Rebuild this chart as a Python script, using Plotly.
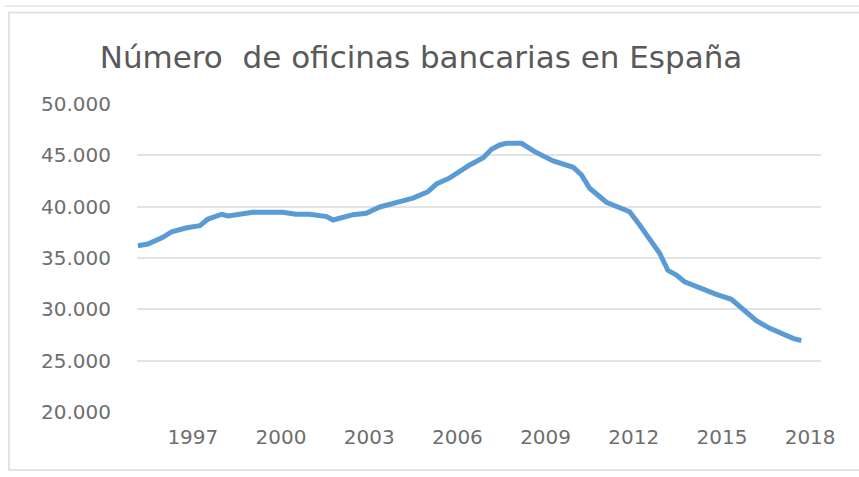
import plotly.graph_objects as go

# Bank branches in Spain (read as decimal year, number of branches)
years = [1995.13, 1995.47, 1995.98, 1996.28, 1996.79, 1997.24, 1997.50, 1997.98,
         1998.20, 1998.83, 1999.04, 2000.06, 2000.50, 2000.98, 2001.55, 2001.77,
         2002.00, 2002.45, 2002.90, 2003.36, 2004.04, 2004.49, 2005.00, 2005.29,
         2005.74, 2006.20, 2006.42, 2006.88, 2007.16, 2007.44, 2007.67, 2008.18,
         2008.63, 2009.26, 2009.94, 2010.22, 2010.50, 2011.07, 2011.86, 2012.20,
         2012.54, 2012.88, 2013.16, 2013.45, 2013.73, 2014.24, 2014.81, 2015.32,
         2015.72, 2016.17, 2016.63, 2017.08, 2017.42, 2017.70]
oficinas = [36200, 36360, 37020, 37560, 37950, 38150, 38770, 39260,
            39090, 39360, 39450, 39450, 39260, 39260, 39030, 38700,
            38870, 39220, 39360, 39970, 40490, 40840, 41460, 42210,
            42800, 43740, 44060, 44760, 45600, 46010, 46170, 46170,
            45360, 44450, 43840, 43090, 41790, 40430, 39510, 38220,
            36920, 35460, 33800, 33340, 32690, 32050, 31460, 30980,
            29940, 28890, 28150, 27570, 27180, 26950]

year_ticks = [1997, 2000, 2003, 2006, 2009, 2012, 2015, 2018]
y_ticks = [20000, 25000, 30000, 35000, 40000, 45000, 50000]
y_labels = [f"{v:,}".replace(",", ".") for v in y_ticks]

W, H = 859, 477
L, R, T, B = 137, 38, 104, 65
PW, PH = W - L - R, H - T - B


def px(x):
    return (x - L) / PW


def py(y):
    return 1 - (y - T) / PH


fig = go.Figure(go.Scatter(
    x=years, y=oficinas, mode="lines",
    line=dict(color="#5B9BD5", width=5),
    hoverinfo="skip",
))

frame = "#dcdcdc"
tick_font = dict(family="DejaVu Sans", size=20, color="#6e6e6e")
fig.update_layout(
    width=W, height=H,
    margin=dict(l=L, r=R, t=T, b=B),
    paper_bgcolor="white", plot_bgcolor="white",
    showlegend=False,
    title=dict(
        text="Número\u00a0 de oficinas bancarias en España",
        x=421 / W, xref="container", xanchor="center",
        y=1 - 57 / H, yref="container", yanchor="middle",
        font=dict(family="DejaVu Sans", size=31, color="#595959"),
    ),
    xaxis=dict(
        range=[1995.1, 2018.37],
        tickvals=year_ticks, ticktext=[str(t) for t in year_ticks],
        showgrid=False, zeroline=False, showline=False, ticks="",
        ticklabelstandoff=11,
        tickfont=tick_font,
    ),
    yaxis=dict(
        range=[20000, 50000],
        tickvals=y_ticks, ticktext=y_labels,
        showgrid=True, gridcolor="#e3e3e3", gridwidth=1.5,
        zeroline=False, showline=False, ticks="",
        ticklabelstandoff=25,
        tickfont=tick_font,
    ),
    shapes=[
        # faint rule above the chart
        dict(type="line", xref="paper", yref="paper",
             x0=px(4), x1=px(W), y0=py(6), y1=py(6),
             line=dict(color="#e2e6f2", width=1.5), layer="below"),
        # chart frame
        dict(type="rect", xref="paper", yref="paper",
             x0=px(9), x1=px(W + 5), y0=py(470), y1=py(12.5),
             line=dict(color=frame, width=1.5), layer="below"),
    ],
)

fig.write_html("out.html")
